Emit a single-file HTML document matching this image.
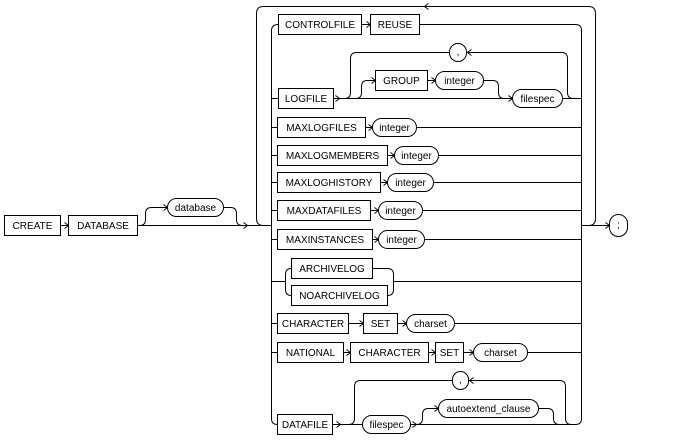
<!DOCTYPE html>
<html><head><meta charset="utf-8"><style>
html,body{margin:0;padding:0;background:#fff;}
svg{display:block;}
text{font-family:"Liberation Sans",Arial,sans-serif;font-size:10px;fill:#000;text-anchor:middle;}
</style></head><body>
<svg width="685" height="446" viewBox="0 0 685 446" xmlns="http://www.w3.org/2000/svg">
<g transform="translate(0.5,0.5)" fill="none" stroke="#000" stroke-width="1">
<!-- main line -->
<path d="M60,225 L68,225 M137,225 L271,225 M581,225 L609,225"/>
<polyline points="64,222 68,225 64,228"/>
<polyline points="243,222 247,225 243,228"/>
<polyline points="605,222 609,225 605,228"/>
<!-- optional database -->
<path d="M139,225 Q145,225 145,219 L145,213 Q145,207 151,207 L167,207"/>
<polyline points="163,204 167,207 163,210"/>
<path d="M223,207 L230,207 Q236,207 236,213 L236,219 Q236,225 242,225"/>
<!-- outer loop -->
<path d="M263,225 Q256,225 256,218 L256,13 Q256,6 263,6 L588,6 Q595,6 595,13 L595,218 Q595,225 588,225"/>
<polyline points="428,3 424,6 428,9"/>
<!-- rails -->
<path d="M278,24 Q271,24 271,30 L271,418 Q271,424 277,424"/>
<path d="M419,24 L575,24 Q581,24 581,30 L581,418 Q581,424 575,424"/>
<!-- row CONTROLFILE -->
<path d="M361,24 L370,24"/><polyline points="366,21 370,24 366,27"/>
<!-- row LOGFILE -->
<path d="M271,98 L278,98 M333,98 L512,98 M562,98 L581,98"/>
<polyline points="335,95 339,98 335,101"/>
<polyline points="508,95 512,98 508,101"/>
<path d="M344,98 Q350,98 350,92 L350,58 Q350,52 356,52 L449,52"/>
<path d="M466,52 L561,52 Q567,52 567,58 L567,92 Q567,98 573,98"/>
<polyline points="471,49 467,52 471,55"/>
<path d="M355,98 Q361,98 361,92 L361,86 Q361,80 367,80 L375,80"/>
<polyline points="371,77 375,80 371,83"/>
<path d="M427,80 L435,80"/><polyline points="431,77 435,80 431,83"/>
<path d="M483,80 L492,80 Q498,80 498,86 L498,92 Q498,98 504,98"/>
<!-- MAX rows -->
<path d="M271,127 L277,127 M365,127 L372,127 M416,127 L581,127"/><polyline points="368,124 372,127 368,130"/>
<path d="M271,155 L277,155 M387,155 L394,155 M438,155 L581,155"/><polyline points="390,152 394,155 390,158"/>
<path d="M271,182 L277,182 M380,182 L387,182 M433,182 L581,182"/><polyline points="383,179 387,182 383,185"/>
<path d="M271,210 L277,210 M370,210 L378,210 M422,210 L581,210"/><polyline points="374,207 378,210 374,213"/>
<path d="M271,239 L277,239 M372,239 L378,239 M424,239 L581,239"/><polyline points="374,236 378,239 374,242"/>
<!-- archive choice -->
<path d="M271,281 L285,281 M393,281 L581,281"/>
<path d="M291,268 Q285,268 285,274 L285,289 Q285,295 291,295"/>
<path d="M372,268 L387,268 Q393,268 393,274 L393,289 Q393,295 387,295"/>
<!-- CHARACTER SET -->
<path d="M271,323 L277,323 M348,323 L363,323 M397,323 L406,323 M454,323 L581,323"/>
<polyline points="359,320 363,323 359,326"/>
<polyline points="402,320 406,323 402,326"/>
<!-- NATIONAL -->
<path d="M271,352 L277,352 M343,352 L350,352 M428,352 L435,352 M463,352 L473,352 M527,352 L581,352"/>
<polyline points="346,349 350,352 346,355"/>
<polyline points="431,349 435,352 431,355"/>
<polyline points="469,349 473,352 469,355"/>
<!-- DATAFILE -->
<path d="M332,424 L362,424 M410,424 L575,424"/>
<polyline points="336,421 340,424 336,427"/>
<polyline points="412,421 416,424 412,427"/>
<path d="M348,424 Q354,424 354,418 L354,386 Q354,380 360,380 L452,380"/>
<path d="M468,380 L559,380 Q565,380 565,386 L565,418 Q565,424 571,424"/>
<polyline points="473,377 469,380 473,383"/>
<path d="M416,424 Q422,424 422,418 L422,414 Q422,408 428,408 L438,408"/>
<polyline points="434,405 438,408 434,411"/>
<path d="M538,408 L547,408 Q553,408 553,414 L553,418 Q553,424 559,424"/>

<!-- boxes -->
<g fill="#fff">
<rect x="4" y="215" width="56" height="20"/>
<rect x="68" y="215" width="69" height="20"/>
<rect x="167" y="198" width="56" height="18" rx="9"/>
<rect x="609" y="214" width="18" height="22" rx="9"/>
<rect x="278" y="14" width="83" height="20"/>
<rect x="370" y="14" width="49" height="20"/>
<rect x="278" y="88" width="55" height="20"/>
<rect x="449" y="43" width="17" height="18" rx="8.5"/>
<rect x="375" y="70" width="52" height="20"/>
<rect x="435" y="71" width="48" height="18" rx="9"/>
<rect x="512" y="89" width="50" height="18" rx="9"/>
<rect x="277" y="117" width="88" height="20"/>
<rect x="372" y="118" width="44" height="18" rx="9"/>
<rect x="277" y="145" width="110" height="20"/>
<rect x="394" y="146" width="44" height="18" rx="9"/>
<rect x="277" y="172" width="103" height="20"/>
<rect x="387" y="173" width="46" height="18" rx="9"/>
<rect x="277" y="200" width="93" height="20"/>
<rect x="378" y="201" width="44" height="18" rx="9"/>
<rect x="277" y="229" width="95" height="20"/>
<rect x="378" y="230" width="46" height="18" rx="9"/>
<rect x="291" y="258" width="81" height="20"/>
<rect x="291" y="285" width="96" height="20"/>
<rect x="277" y="313" width="71" height="20"/>
<rect x="363" y="313" width="34" height="20"/>
<rect x="406" y="314" width="48" height="18" rx="9"/>
<rect x="277" y="342" width="66" height="20"/>
<rect x="350" y="342" width="78" height="20"/>
<rect x="435" y="342" width="28" height="20"/>
<rect x="473" y="343" width="54" height="18" rx="9"/>
<rect x="452" y="371" width="16" height="18" rx="8"/>
<rect x="277" y="414" width="55" height="20"/>
<rect x="362" y="415" width="48" height="18" rx="9"/>
<rect x="438" y="399" width="100" height="18" rx="9"/>
</g>
</g>
<g stroke="none">
<text x="32.5" y="229">CREATE</text>
<text x="103" y="229">DATABASE</text>
<text x="195.5" y="211">database</text>
<text x="618.5" y="228">;</text>
<text x="320" y="28">CONTROLFILE</text>
<text x="395" y="28">REUSE</text>
<text x="306" y="102">LOGFILE</text>
<text x="458" y="55">,</text>
<text x="401.5" y="84">GROUP</text>
<text x="459.5" y="84">integer</text>
<text x="537.5" y="102">filespec</text>
<text x="321.5" y="131">MAXLOGFILES</text>
<text x="394.5" y="131">integer</text>
<text x="332.5" y="159">MAXLOGMEMBERS</text>
<text x="416.5" y="159">integer</text>
<text x="329" y="186">MAXLOGHISTORY</text>
<text x="410.5" y="186">integer</text>
<text x="324" y="214">MAXDATAFILES</text>
<text x="400.5" y="214">integer</text>
<text x="325" y="243">MAXINSTANCES</text>
<text x="401.5" y="243">integer</text>
<text x="332" y="272">ARCHIVELOG</text>
<text x="339.5" y="299">NOARCHIVELOG</text>
<text x="313" y="327">CHARACTER</text>
<text x="380.5" y="327">SET</text>
<text x="430.5" y="327">charset</text>
<text x="310.5" y="356">NATIONAL</text>
<text x="389.5" y="356">CHARACTER</text>
<text x="449.5" y="356">SET</text>
<text x="500.5" y="356">charset</text>
<text x="460.5" y="383">,</text>
<text x="305" y="428">DATAFILE</text>
<text x="386.5" y="428">filespec</text>
<text x="488.5" y="412">autoextend_clause</text>
</g>
</svg>
</body></html>
